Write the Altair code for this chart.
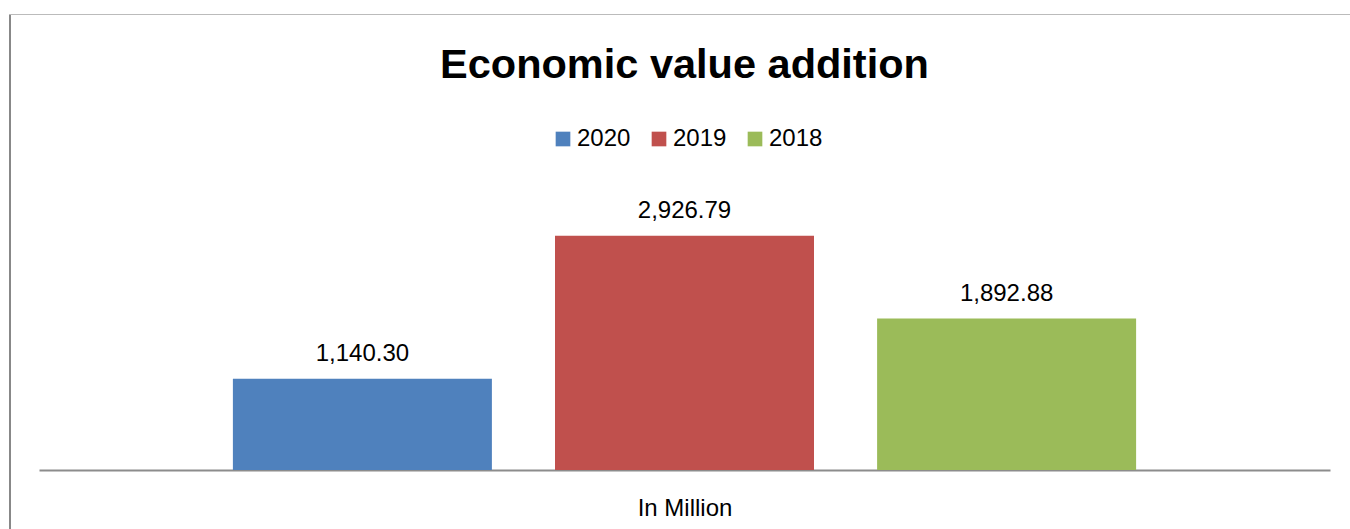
import altair as alt
import pandas as pd

years = ["2020", "2019", "2018"]
values = [1140.30, 2926.79, 1892.88]
labels = ["1,140.30", "2,926.79", "1,892.88"]
colors = ["#4F81BD", "#C0504D", "#9BBB59"]

df = pd.DataFrame({"year": years, "value": values, "label": labels})

FONT = "Liberation Sans"
PAD_L, PAD_T, W, H = 39, 190, 1291, 280

x = alt.X("year:N", sort=years,
          scale=alt.Scale(paddingInner=0.196, paddingOuter=0.602),
          axis=alt.Axis(labels=False, ticks=False, grid=False, title="In Million",
                        domainColor="#8c8c8c", domainWidth=2,
                        titleFont=FONT, titleFontSize=24, titleFontWeight="normal",
                        titleColor="#000000", titleBaseline="alphabetic", titlePadding=45))
y = alt.Y("value:Q", scale=alt.Scale(domain=[0, 3500]), axis=None)

bars = alt.Chart(df).mark_bar(size=259).encode(
    x=x, y=y,
    color=alt.Color("year:N", sort=years,
                    scale=alt.Scale(domain=years, range=colors),
                    legend=alt.Legend(title=None, orient="none", direction="horizontal",
                                      legendX=512, legendY=-63,
                                      symbolType="square", symbolSize=215,
                                      symbolStrokeWidth=0, symbolOpacity=1,
                                      labelFont=FONT, labelFontSize=24, labelColor="#000000",
                                      labelOffset=2, columnPadding=16, columns=3)),
)

text = alt.Chart(df).mark_text(font=FONT, fontSize=24, color="#000000",
                               baseline="alphabetic", dy=-17.5).encode(
    x=alt.X("year:N", sort=years), y="value:Q", text="label:N")

frame_data = alt.Data(values=[{}])
left_line = alt.Chart(frame_data).mark_rule(color="#888888", strokeWidth=2).encode(
    x=alt.value(10 - PAD_L), y=alt.value(14 - PAD_T), y2=alt.value(529 - PAD_T))
top_line = alt.Chart(frame_data).mark_rule(color="#BBBBBB", strokeWidth=1).encode(
    x=alt.value(9 - PAD_L), x2=alt.value(1350 - PAD_L), y=alt.value(14.5 - PAD_T))

chart = alt.layer(bars, text, left_line, top_line).properties(
    width=W, height=H,
    background="white",
    title=alt.TitleParams("Economic value addition", font=FONT, fontSize=41.5,
                          fontWeight="bold", color="#000000", anchor="middle",
                          baseline="alphabetic", offset=-106),
    autosize=alt.AutoSizeParams(type="none"),
    padding={"left": PAD_L, "top": PAD_T, "right": 20, "bottom": 59},
).configure_view(strokeWidth=0)

chart.save("out.html", embed_options={"renderer": "svg", "actions": False})
